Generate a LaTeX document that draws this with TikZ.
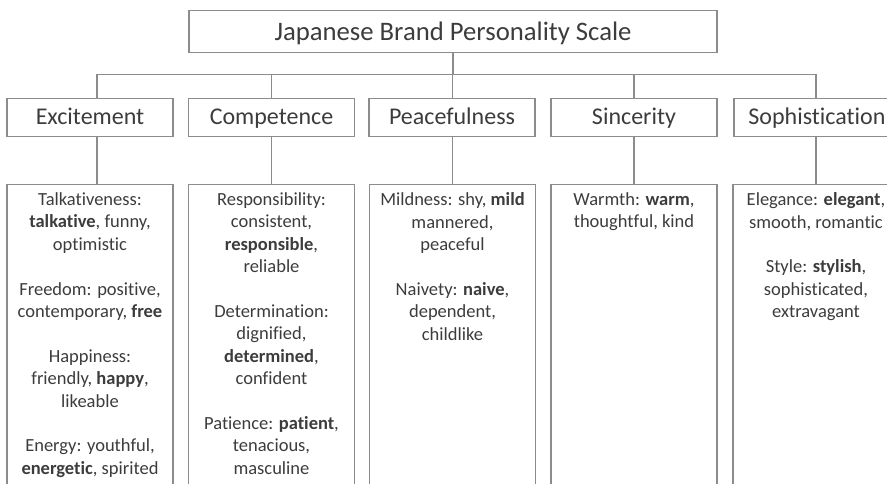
\documentclass[tikz,border=0pt]{standalone}
\usepackage{fontspec}
\setmainfont{Carlito}[Ligatures={NoCommon}]
\definecolor{linegray}{HTML}{8C8C8C}
\definecolor{inkgray}{HTML}{3C3C3C}
\begin{document}
\begin{tikzpicture}[x=1pt,y=-1pt,
  frame/.style={draw=linegray, line width=1.3pt, rectangle, inner sep=0pt},
  titlebox/.style={frame, minimum width=528pt, minimum height=42pt,
    text height=24pt, text depth=5pt,
    font=\fontsize{26.7}{31}\selectfont, text=inkgray},
  catbox/.style={frame, minimum width=166pt, minimum height=38.5pt,
    text height=20pt, text depth=5pt,
    font=\fontsize{24}{28}\selectfont, text=inkgray},
  listbox/.style={frame, anchor=north, minimum width=166pt, minimum height=340pt},
  listtext/.style={anchor=north, align=center, inner sep=0pt,
    font=\fontsize{18.5}{22.4}\selectfont, text=inkgray},
  link/.style={draw=linegray, line width=1.3pt}]
\useasboundingbox (0,0) rectangle (887,484);
\clip (0,0) rectangle (887,484);

% root of the scale
\node[titlebox] (title) at (453,31.2) {Japanese Brand Personality Scale};

% the five dimensions
\node[catbox] (exc) at (90,117.5)    {Excitement};
\node[catbox] (com) at (271.5,117.5) {Competence};
\node[catbox] (pea) at (452,117.5)   {Peacefulness};
\node[catbox] (sin) at (634,117.5)   {Sincerity};
\node[catbox] (sop) at (817,117.5)   {Sophistication};

% facet lists below each dimension (running off the lower edge)
\node[listbox] (excL) at (90,184)    {};
\node[listbox] (comL) at (271.5,184) {};
\node[listbox] (peaL) at (452.5,184) {};
\node[listbox] (sinL) at (634,184)   {};
\node[listbox] (sopL) at (816,184)   {};

% tree connectors
\coordinate (bus) at (0,74.5);
\draw[link] (title.south) -- (title.south |- bus);
\draw[link] ([xshift=7pt]exc.north |- bus) -- ([xshift=-1pt]sop.north |- bus);
\draw[link] ([xshift=7pt]exc.north |- bus) -- ([xshift=7pt]exc.north);
\draw[link] (com.north |- bus) -- (com.north);
\draw[link] ([xshift=0.5pt]pea.north |- bus) -- ([xshift=0.5pt]pea.north);
\draw[link] (sin.north |- bus) -- (sin.north);
\draw[link] ([xshift=-1pt]sop.north |- bus) -- ([xshift=-1pt]sop.north);

\draw[link] ([xshift=7pt]exc.south) -- ([xshift=7pt]exc.south |- excL.north);
\draw[link] (com.south) -- (com.south |- comL.north);
\draw[link] (pea.south -| peaL.north) -- (peaL.north);
\draw[link] (sin.south) -- (sinL.north);
\draw[link] (sop.south -| sopL.north) -- (sopL.north);

% facet texts
\node[listtext] (excT) at (90,192.5) {Talkativeness:\\ \textbf{talkative}, funny,\\ optimistic\\[22.4pt]
  Freedom: positive,\\ contemporary, \textbf{free}\\[22.4pt]
  Happiness:\\ friendly, \textbf{happy},\\ likeable\\[22.4pt]
  Energy: youthful,\\ \textbf{energetic}, spirited};
\node[listtext] (comT) at (271.5,192.5) {Responsibility:\\ consistent,\\ \textbf{responsible},\\ reliable\\[22.4pt]
  Determination:\\ dignified,\\ \textbf{determined},\\ confident\\[22.4pt]
  Patience: \textbf{patient},\\ tenacious,\\ masculine};
\node[listtext] (peaT) at (452.5,192.5) {Mildness: shy, \textbf{mild}\\ mannered,\\ peaceful\\[22.4pt]
  Naivety: \textbf{naive},\\ dependent,\\ childlike};
\node[listtext] (sinT) at (634,192.5) {Warmth: \textbf{warm},\\ thoughtful, kind};
\node[listtext] (sopT) at (816,192.5) {Elegance: \textbf{elegant},\\ smooth, romantic\\[22.4pt]
  Style: \textbf{stylish},\\ sophisticated,\\ extravagant};
\end{tikzpicture}
\end{document}
